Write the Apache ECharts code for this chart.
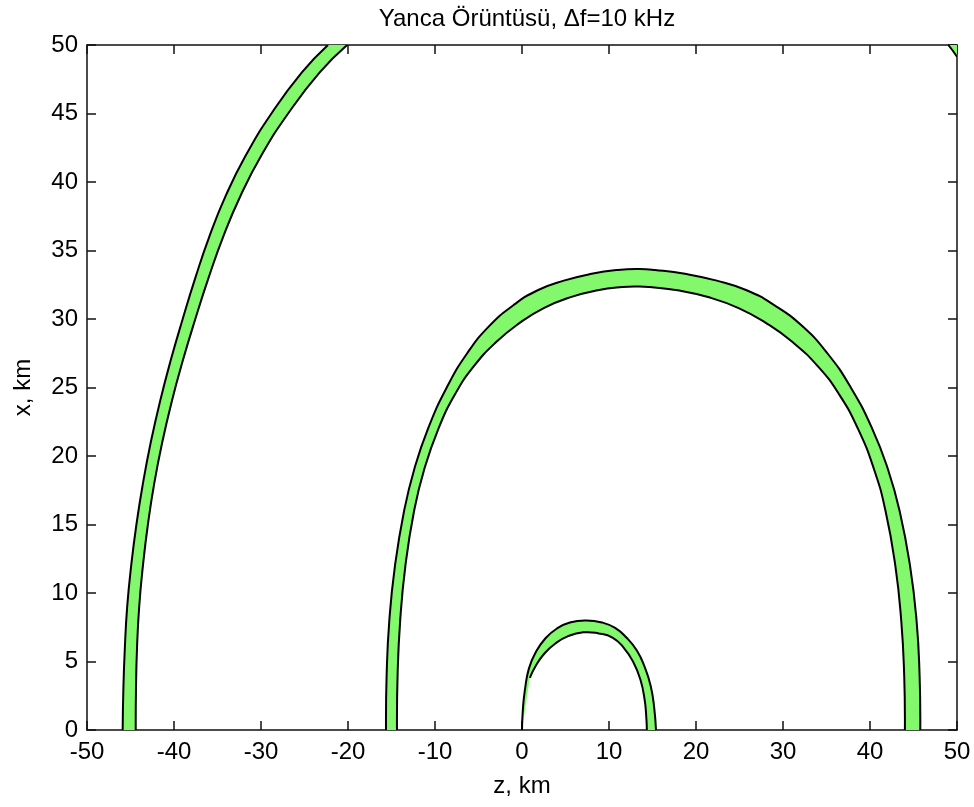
<!DOCTYPE html>
<html>
<head>
<meta charset="utf-8">
<script src="https://cdn.jsdelivr.net/npm/echarts@6/dist/echarts.min.js"></script>
<style>
html,body{margin:0;padding:0;background:#fff;}
#chart{width:974px;height:807px;}
</style>
</head>
<body>
<div id="chart"></div>
<script>
// ---- data (z, x) in km ----
const titleText = 'Yanca Örüntüsü, \u0394f=10 kHz';
const xName = 'z, km';
const yName = 'x, km';

const largeOuter = [[-45.9,0],[-45.82,3],[-45.65,6],[-45.38,9],[-44.92,12],[-44.32,15],[-43.57,18],[-42.67,21],[-41.6,24],[-40.37,27],[-39.0,30],[-37.55,33],[-35.95,36],[-34.05,39],[-31.7,42],[-28.8,45],[-25.3,48],[-22.3,50]];
const largeInner = [[-44.4,0],[-44.37,3],[-44.25,6],[-44.0,9],[-43.57,12],[-43.0,15],[-42.27,18],[-41.35,21],[-40.25,24],[-38.97,27],[-37.55,30],[-36.03,33],[-34.35,36],[-32.35,39],[-29.9,42],[-26.88,45],[-23.25,48],[-20.1,50]];

const midOuter = [[-15.63,0],[-15.56,4],[-15.25,8],[-14.6,12],[-13.55,16],[-12.4,19],[-10.8,22],[-8.65,25],[-6.3,27.5],[-3.75,29.5],[-1.0,31.0],[1.8,32.1],[4.8,32.8],[8.0,33.3],[11.0,33.58],[13.5,33.65],[15.29,33.58],[18.73,33.3],[22.39,32.8],[25.82,32.1],[29.03,31.0],[32.18,29.5],[35.1,27.5],[37.79,25],[40.25,22],[42.08,19],[43.4,16],[44.6,12],[45.35,8],[45.7,4],[45.78,0]];
const midInner = [[-14.37,0],[-14.3,4],[-14.0,8],[-13.4,12],[-12.4,16],[-11.25,19],[-9.6,22],[-7.7,24.5],[-5.6,26.5],[-3.0,28.3],[-0.3,29.7],[2.5,30.8],[5.6,31.6],[8.7,32.1],[11.5,32.33],[13.5,32.37],[14.7,32.33],[17.87,32.1],[21.38,31.6],[24.9,30.8],[28.07,29.7],[31.13,28.3],[34.07,26.5],[36.45,24.5],[38.61,22],[40.48,19],[41.78,16],[42.91,12],[43.59,8],[43.93,4],[44.01,0]];

const smallOuter = [[0,0],[0.1,1.5],[0.35,3.0],[0.8,4.5],[1.6,5.7],[2.7,6.7],[4.0,7.4],[5.5,7.85],[7.4,8.0],[9.2,7.85],[10.7,7.45],[12.0,6.75],[13.2,5.8],[14.1,4.6],[14.8,3.2],[15.2,1.6],[15.4,0]];
const smallInner = [[0.9,3.8],[1.6,4.7],[2.6,5.6],[3.8,6.3],[5.3,6.85],[7.05,7.13],[8.8,7.05],[10.4,6.75],[11.7,6.0],[12.8,4.95],[13.6,3.7],[14.1,2.2],[14.3,0.8],[14.35,0]];

const cornerOuter = [[49.0,50],[49.5,49.6],[50,49.15]];
const cornerInner = [[50,50]];

const bands = [
  {outer: largeOuter, inner: largeInner, smooth: 0.5},
  {outer: midOuter, inner: midInner, smooth: 0.5},
  {outer: smallOuter, inner: smallInner, smooth: 0.5},
  {outer: cornerOuter, inner: cornerInner, smooth: 0}
];

const GREEN = '#84f86c';
const FONT = "'Liberation Sans', Arial, sans-serif";

function renderItem(params, api) {
  const b = bands[params.dataIndex];
  const o = b.outer.map(p => api.coord(p));
  const i = b.inner.map(p => api.coord(p));
  const ri = i.slice().reverse();
  // repeat the end points of each boundary so the closed fill keeps the same tangents as the strokes
  const poly = [o[0]].concat(o, [o[o.length - 1], ri[0]], ri, [ri[ri.length - 1]]);
  const children = [
    {type: 'polygon', shape: {points: poly, smooth: b.smooth}, style: {fill: GREEN, stroke: null}},
    {type: 'polyline', shape: {points: o, smooth: b.smooth}, style: {fill: null, stroke: '#000', lineWidth: 2}}
  ];
  if (i.length > 1) {
    children.push({type: 'polyline', shape: {points: i, smooth: b.smooth}, style: {fill: null, stroke: '#000', lineWidth: 2}});
  }
  return {type: 'group', children: children};
}

const axisCommon = {
  type: 'value',
  axisLine: {show: true, onZero: false, lineStyle: {color: '#111', width: 1.5}},
  axisTick: {show: true, inside: true, length: 9, lineStyle: {color: '#111', width: 1.5}},
  splitLine: {show: false},
  axisLabel: {color: '#000', fontSize: 24, fontFamily: FONT}
};

const chart = echarts.init(document.getElementById('chart'));
chart.setOption({
  animation: false,
  backgroundColor: '#fff',
  title: {
    text: titleText,
    left: 522,
    top: 2,
    textAlign: 'center',
    textStyle: {color: '#000', fontSize: 24, fontWeight: 'normal', fontFamily: FONT}
  },
  grid: {left: 87, right: 17, top: 45, bottom: 77, containLabel: false},
  xAxis: [
    Object.assign({}, axisCommon, {
      position: 'bottom', min: -50, max: 50, interval: 10,
      name: xName, nameLocation: 'middle', nameGap: 44,
      nameTextStyle: {color: '#000', fontSize: 24, fontFamily: FONT},
      axisLabel: Object.assign({}, axisCommon.axisLabel, {margin: 10})
    }),
    Object.assign({}, axisCommon, {
      position: 'top', min: -50, max: 50, interval: 10,
      axisLabel: {show: false}
    })
  ],
  yAxis: [
    Object.assign({}, axisCommon, {
      position: 'left', min: 0, max: 50, interval: 5,
      name: yName, nameLocation: 'middle', nameGap: 52,
      nameTextStyle: {color: '#000', fontSize: 24, fontFamily: FONT},
      axisLabel: Object.assign({}, axisCommon.axisLabel, {margin: 9})
    }),
    Object.assign({}, axisCommon, {
      position: 'right', min: 0, max: 50, interval: 5,
      axisLabel: {show: false}
    })
  ],
  series: [{
    type: 'custom',
    xAxisIndex: 0,
    yAxisIndex: 0,
    clip: true,
    renderItem: renderItem,
    encode: {x: 0, y: 1},
    data: bands.map((b, k) => [k, 0])
  }]
});
</script>
</body>
</html>
